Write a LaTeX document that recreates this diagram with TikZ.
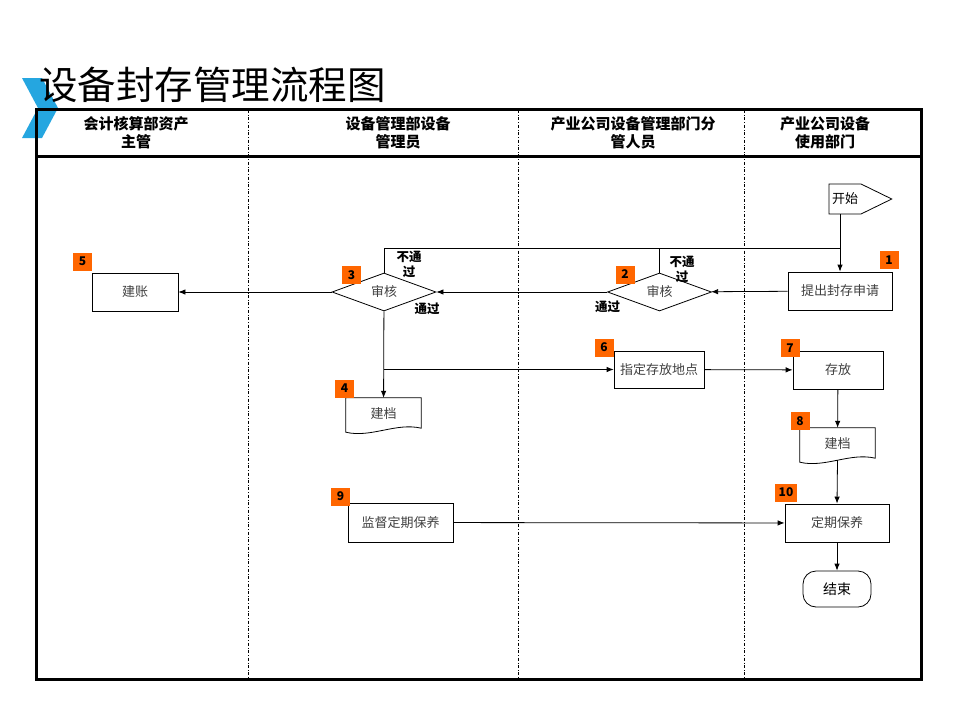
\documentclass[tikz,border=0pt]{standalone}
\usepackage{fontspec}
\setmainfont{Noto Sans CJK SC}
\usetikzlibrary{shapes.geometric,shapes.symbols,arrows.meta}
\definecolor{badgeorange}{HTML}{FF6600}
\definecolor{chevblue}{HTML}{25A6E0}

\begin{document}
\begin{tikzpicture}[x=1pt,y=-1pt,>={Latex[length=7pt,width=5.5pt]},
  every node/.style={inner sep=0pt},
  lane/.style={dash dot, line width=0.5pt},
  head/.style={align=center, font=\bfseries\fontsize{15}{18}\selectfont},
  proc/.style={draw, line width=0.8pt, minimum width=#1, minimum height=38pt,
    text=black!75, font=\fontsize{13}{13}\selectfont},
  check/.style={diamond, draw, line width=0.8pt, minimum width=104pt,
    minimum height=38pt, aspect=2.7, text=black!75, font=\fontsize{13}{13}\selectfont},
  doc/.style={minimum width=75pt, minimum height=32pt, text=black!75,
    font=\fontsize{13}{13}\selectfont},
  badge/.style={fill=badgeorange, minimum width=19pt, minimum height=18pt,
    font=\bfseries\fontsize{12}{12}\selectfont},
  note/.style={align=center, font=\bfseries\fontsize{12.5}{15}\selectfont},
  flow/.style={->, line width=0.8pt}]

  \useasboundingbox (0,0) rectangle (960,720);

  % title
  \fill[chevblue] (22,78) -- (42,78) -- (58,108) -- (42,138) -- (22,138) -- (38,108) -- cycle;
  \node[anchor=west, font=\fontsize{38.5}{38.5}\selectfont] (title) at (39,85) {设备封存管理流程图};

  % lanes
  \draw[line width=3pt] (36,109) rectangle (921,679);
  \draw[line width=3pt] (36,156) -- (921,156);
  \foreach \x in {248,518,744}
    \draw[lane] (\x,110) -- (\x,678);

  \node[head] (h1) at (136,133) {会计核算部资产\\主管};
  \node[head] (h2) at (398,133) {设备管理部设备\\管理员};
  \node[head] (h3) at (633,133) {产业公司设备管理部门分\\管人员};
  \node[head] (h4) at (825,133) {产业公司设备\\使用部门};

  % steps
  \node[draw, signal, signal to=east, signal pointer angle=52, minimum height=30pt,
    inner xsep=3pt, line width=0.8pt, font=\fontsize{13}{13}\selectfont] (start) at (845,199) {开始};
  \node[proc=104pt] (n1) at (840,291) {提出封存申请};
  \node[check] (d2) at (659.5,292) {审核};
  \node[check] (d3) at (384,292) {审核};
  \node[proc=86pt] (n5) at (135,292) {建账};
  \node[doc] (n4) at (383.5,414) {建档};
  \node[proc=90pt, minimum height=37pt] (n6) at (659,369.5) {指定存放地点};
  \node[proc=90pt] (n7) at (838,370) {存放};
  \node[doc] (n8) at (837.5,444) {建档};
  \node[proc=105pt, minimum height=39pt] (n9) at (400.5,522.5) {监督定期保养};
  \node[proc=104pt] (n10) at (837,523) {定期保养};
  \node[draw, line width=0.8pt, rounded corners=13pt, minimum width=68pt, minimum height=36pt,
    font=\fontsize{14}{14}\selectfont] (stop) at (837,589) {结束};

  \foreach \d in {n4,n8}
    \draw[line width=0.8pt] (\d.north west) -- (\d.north east) -- ([yshift=2pt]\d.south east)
      .. controls +(-25pt,6pt) and +(25pt,-6pt) .. ([yshift=-2pt]\d.south west) -- cycle;

  \foreach \n/\x/\y in {1/889/260, 2/625/274.5, 3/351.5/275, 4/344.5/388.5, 5/82.5/261.5,
                        6/604/347.5, 7/790/348, 8/800/421, 9/340.5/496.5}
    \node[badge] (b\n) at (\x,\y) {\n};
  \node[badge, minimum width=22pt] (b10) at (786,492.5) {10};

  % connectors
  \coordinate (j) at (840,248);
  \draw[flow] (start.south -| n1.north) -- (n1.north);
  \draw[line width=0.8pt] (d3.north) -- (d3.north |- j) -- (j);
  \draw[line width=0.8pt] (d2.north) -- (d2.north |- j);
  \draw[flow] (n1) -- (d2);
  \draw[flow] (d2) -- (d3);
  \draw[flow] (d3) -- (n5);
  \draw[flow] (d3) -- (n4);
  \draw[flow] (d3.south |- n6.west) -- (n6.west);
  \draw[flow] (n6) -- (n7);
  \draw[flow] (n7) -- (n8);
  \draw[flow] (n8.south) -- (n10.north);
  \draw[flow] (n9) -- (n10);
  \draw[flow] (n10) -- (stop);

  \node[note] (l3a) at (409,264) {不通\\过};
  \node[note] (l3b) at (427,309) {通过};
  \node[note] (l2a) at (682,269.5) {不通\\过};
  \node[note] (l2b) at (607.5,307) {通过};
\end{tikzpicture}
\end{document}
